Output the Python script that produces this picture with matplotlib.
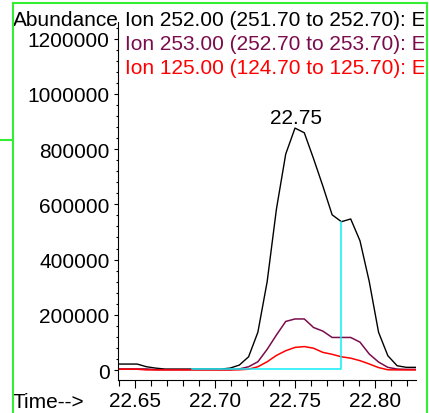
import matplotlib
matplotlib.use('Agg')
import matplotlib.pyplot as plt
from matplotlib.ticker import MultipleLocator, FormatStrFormatter
from matplotlib.lines import Line2D

plt.rcParams['font.family'] = ['Liberation Sans', 'DejaVu Sans']

# retention time (min) of each scan
time = [22.6398, 22.6456, 22.6514, 22.6572, 22.6630, 22.6688, 22.6746, 22.6804,
        22.6862, 22.6920, 22.6978, 22.7036, 22.7094, 22.7152, 22.7210, 22.7268,
        22.7326, 22.7384, 22.7442, 22.7500, 22.7558, 22.7616, 22.7674, 22.7732,
        22.7790, 22.7848, 22.7906, 22.7964, 22.8022, 22.8080, 22.8138, 22.8196,
        22.8254]

ion252 = [21700, 21700, 21700, 12000, 7000, 3600, 3600, 3600,
          3600, 3600, 3600, 3600, 7000, 18000, 48000, 137000,
          320000, 583000, 782000, 876000, 859000, 765000, 666000, 562000,
          537000, 547000, 468000, 320000, 137000, 52000, 15600, 9800,
          9800]

ion253 = [4000, 4000, 4000, 4000, 1500, 1500, 1500, 1500,
          1500, 1500, 1500, 1500, 1500, 4000, 12000, 30000,
          75000, 127000, 176000, 185000, 185000, 154000, 141000, 118000,
          118000, 118000, 101000, 58000, 29000, 9800, 3600, 2500,
          2500]

ion125 = [3000, 3000, 3000, 500, 500, 500, 500, 500,
          500, 500, 500, 500, 500, 1000, 3000, 12000,
          30000, 53000, 70000, 82000, 85000, 79000, 64000, 57000,
          48000, 43000, 34000, 22000, 9000, 1000, 500, 500,
          500]

# integration baseline / drop line
base_time = [22.6854, 22.7790, 22.7790]
base_val = [4000, 4000, 537000]

peak_rt = 22.75
legend_labels = ['Ion 252.00 (251.70 to 252.70): E',
                 'Ion 253.00 (252.70 to 253.70): E',
                 'Ion 125.00 (124.70 to 125.70): E']
colors = ['black', '#7a0c4c', '#ff0000']

W, H = 429, 414
fig = plt.figure(figsize=(W / 100, H / 100), dpi=100)
fs = 15

ax = fig.add_axes([118 / W, (H - 381) / H, (416 - 118) / W, (381 - 23) / H])
ax.plot(time, ion252, color=colors[0], lw=1.0)
ax.plot(time, ion253, color=colors[1], lw=1.1)
ax.plot(time, ion125, color=colors[2], lw=1.1)
ax.plot(base_time, base_val, color='#10eef8', lw=1.1)

ax.annotate('22.75', xy=(peak_rt, max(ion252)), xytext=(1, 1),
            textcoords='offset points', ha='center', va='bottom', fontsize=fs)

ax.set_xlim(22.6394, 22.8256)
ax.set_ylim(-36000, 1260000)
ax.spines['top'].set_visible(False)
ax.spines['right'].set_visible(False)
ax.spines['left'].set_linewidth(0.8)
ax.spines['bottom'].set_linewidth(0.8)

ax.set_xticks([22.65, 22.70, 22.75, 22.80])
ax.xaxis.set_major_formatter(FormatStrFormatter('%.2f'))
ax.xaxis.set_minor_locator(MultipleLocator(0.01))
ax.set_yticks([0, 200000, 400000, 600000, 800000, 1000000, 1200000])
ax.yaxis.set_major_formatter(FormatStrFormatter('%d'))
ax.yaxis.set_minor_locator(MultipleLocator(40000))
ax.tick_params(axis='x', which='major', length=6, width=0.8, labelsize=fs, pad=2)
ax.tick_params(axis='x', which='minor', length=4, width=0.8)
ax.tick_params(axis='y', which='major', length=3, width=0.8, labelsize=fs, pad=3)
ax.tick_params(axis='y', which='minor', length=1.5, width=0.8)

# frame area for header texts (clipped at the green border)
fr = fig.add_axes([13 / W, 0, (424 - 13) / W, (H - 5) / H])
fr.set_axis_off()
fr.set_xlim(13, 424)
fr.set_ylim(414, 5)
fr.text(13, 20, 'Abundance', fontsize=fs, va='center', ha='left', clip_on=True)
fr.text(13, 403, 'Time-->', fontsize=fs, va='center', ha='left', clip_on=True)
for i, lab in enumerate(legend_labels):
    fr.text(125, 20 + 24 * i, lab, color=colors[i], fontsize=fs,
            va='center', ha='left', clip_on=True)

# green window border
green = '#33ee33'
def fline(xs, ys):
    fig.add_artist(Line2D([x / W for x in xs], [1 - y / H for y in ys],
                          color=green, lw=1.5, transform=fig.transFigure))
fline([12.5, 12.5], [4, 414])
fline([12.5, 426.5], [4, 4])
fline([426.5, 426.5], [4, 414])
fline([0, 12.5], [141, 141])

fig.savefig('out.png', dpi=100)
